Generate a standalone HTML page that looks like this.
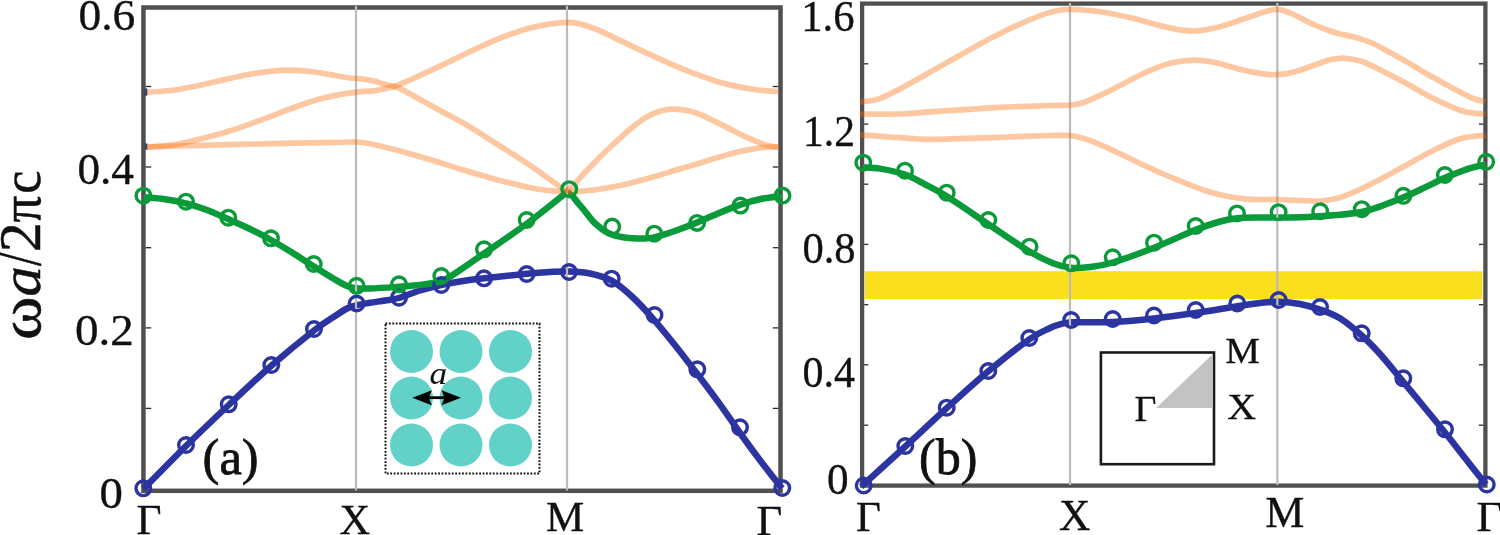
<!DOCTYPE html>
<html><head><meta charset="utf-8"><title>Band structure</title>
<style>html,body{margin:0;padding:0;background:#fff;}body{width:1500px;height:535px;overflow:hidden;font-family:"Liberation Serif",serif;}svg{display:block;}text{font-family:"Liberation Serif",serif;fill:#111;}</style></head><body>
<svg width="1500" height="535" viewBox="0 0 1500 535">
<rect x="0" y="0" width="1500" height="535" fill="#ffffff"/>
<rect x="864.9" y="271.2" width="617.5" height="27.8" fill="#fae01c"/>
<rect x="143.45" y="7.50" width="637.05" height="483.30" fill="none" stroke="#505050" stroke-width="4.50"/>
<rect x="862.10" y="3.60" width="623.30" height="482.00" fill="none" stroke="#505050" stroke-width="4.30"/>
<line x1="145.6" y1="86.50" x2="151.2" y2="86.50" stroke="#2a2a2a" stroke-width="1.30"/>
<line x1="145.6" y1="167.00" x2="151.2" y2="167.00" stroke="#2a2a2a" stroke-width="1.30"/>
<line x1="145.6" y1="247.70" x2="151.2" y2="247.70" stroke="#2a2a2a" stroke-width="1.30"/>
<line x1="145.6" y1="327.90" x2="151.2" y2="327.90" stroke="#2a2a2a" stroke-width="1.30"/>
<line x1="145.6" y1="408.40" x2="151.2" y2="408.40" stroke="#2a2a2a" stroke-width="1.30"/>
<line x1="772.8" y1="86.50" x2="778.4" y2="86.50" stroke="#2a2a2a" stroke-width="1.30"/>
<line x1="772.8" y1="167.00" x2="778.4" y2="167.00" stroke="#2a2a2a" stroke-width="1.30"/>
<line x1="772.8" y1="247.70" x2="778.4" y2="247.70" stroke="#2a2a2a" stroke-width="1.30"/>
<line x1="772.8" y1="327.90" x2="778.4" y2="327.90" stroke="#2a2a2a" stroke-width="1.30"/>
<line x1="772.8" y1="408.40" x2="778.4" y2="408.40" stroke="#2a2a2a" stroke-width="1.30"/>
<line x1="864.2" y1="63.80" x2="868.2" y2="63.80" stroke="#2a2a2a" stroke-width="1.30"/>
<line x1="864.2" y1="124.10" x2="868.2" y2="124.10" stroke="#2a2a2a" stroke-width="1.30"/>
<line x1="864.2" y1="184.20" x2="868.2" y2="184.20" stroke="#2a2a2a" stroke-width="1.30"/>
<line x1="864.2" y1="244.40" x2="868.2" y2="244.40" stroke="#2a2a2a" stroke-width="1.30"/>
<line x1="864.2" y1="304.70" x2="868.2" y2="304.70" stroke="#2a2a2a" stroke-width="1.30"/>
<line x1="864.2" y1="364.80" x2="868.2" y2="364.80" stroke="#2a2a2a" stroke-width="1.30"/>
<line x1="864.2" y1="425.20" x2="868.2" y2="425.20" stroke="#2a2a2a" stroke-width="1.30"/>
<line x1="1478.9" y1="63.80" x2="1483.4" y2="63.80" stroke="#2a2a2a" stroke-width="1.30"/>
<line x1="1478.9" y1="124.10" x2="1483.4" y2="124.10" stroke="#2a2a2a" stroke-width="1.30"/>
<line x1="1478.9" y1="184.20" x2="1483.4" y2="184.20" stroke="#2a2a2a" stroke-width="1.30"/>
<line x1="1478.9" y1="244.40" x2="1483.4" y2="244.40" stroke="#2a2a2a" stroke-width="1.30"/>
<line x1="1478.9" y1="304.70" x2="1483.4" y2="304.70" stroke="#2a2a2a" stroke-width="1.30"/>
<line x1="1478.9" y1="364.80" x2="1483.4" y2="364.80" stroke="#2a2a2a" stroke-width="1.30"/>
<line x1="1478.9" y1="425.20" x2="1483.4" y2="425.20" stroke="#2a2a2a" stroke-width="1.30"/>
<rect x="385.5" y="323.5" width="154" height="150" fill="#fff" stroke="#111" stroke-width="2" stroke-dasharray="1.8 1.62"/>
<circle cx="411.5" cy="351.5" r="21.5" fill="#62d2c8"/>
<circle cx="461.0" cy="351.5" r="21.5" fill="#62d2c8"/>
<circle cx="510.5" cy="351.5" r="21.5" fill="#62d2c8"/>
<circle cx="411.5" cy="398.0" r="21.5" fill="#62d2c8"/>
<circle cx="461.0" cy="398.0" r="21.5" fill="#62d2c8"/>
<circle cx="510.5" cy="398.0" r="21.5" fill="#62d2c8"/>
<circle cx="411.5" cy="445.0" r="21.5" fill="#62d2c8"/>
<circle cx="461.0" cy="445.0" r="21.5" fill="#62d2c8"/>
<circle cx="510.5" cy="445.0" r="21.5" fill="#62d2c8"/>
<line x1="426" y1="397.7" x2="447" y2="397.7" stroke="#000" stroke-width="2.8"/>
<path d="M412.3,397.7 L431.8,390.2 L428.8,397.7 L431.8,405.2 Z" fill="#000"/>
<path d="M461.0,397.7 L441.5,390.2 L444.5,397.7 L441.5,405.2 Z" fill="#000"/>
<rect x="1100.9" y="352.5" width="113.1" height="111.7" fill="#fff" stroke="#1a1a1a" stroke-width="2.6"/>
<path d="M1156,407.9 L1212.6,354.3 L1212.6,407.9 Z" fill="#c3c3c3"/>
<path d="M143.50,489.00 C150.58,481.83 171.80,460.00 186.00,446.00 C200.20,432.00 214.53,418.33 228.70,405.00 C242.87,391.67 256.78,378.42 271.00,366.00 C285.22,353.58 303.33,338.83 314.00,330.50 C324.67,322.17 329.50,319.67 335.00,316.00 C340.50,312.33 343.50,310.28 347.00,308.50 C350.50,306.72 352.17,306.25 356.00,305.30 C359.83,304.35 365.17,303.60 370.00,302.80 C374.83,302.00 380.17,301.30 385.00,300.50 C389.83,299.70 393.17,299.67 399.00,298.00 C404.83,296.33 413.00,292.67 420.00,290.50 C427.00,288.33 434.33,286.50 441.00,285.00 C447.67,283.50 452.83,282.62 460.00,281.50 C467.17,280.38 472.83,279.60 484.00,278.30 C495.17,277.00 516.00,274.75 527.00,273.70 C538.00,272.65 543.00,272.37 550.00,272.00 C557.00,271.63 562.33,271.25 569.00,271.50 C575.67,271.75 582.88,271.97 590.00,273.50 C597.12,275.03 604.53,276.70 611.70,280.70 C618.87,284.70 625.95,290.98 633.00,297.50 C640.05,304.02 647.00,311.85 654.00,319.80 C661.00,327.75 667.78,336.17 675.00,345.20 C682.22,354.23 689.80,364.15 697.30,374.00 C704.80,383.85 712.88,394.47 720.00,404.30 C727.12,414.13 733.33,423.68 740.00,433.00 C746.67,442.32 753.00,450.95 760.00,460.20 C767.00,469.45 778.33,483.78 782.00,488.50" fill="none" stroke="#2b34a0" stroke-width="6.50" stroke-linejoin="round" stroke-linecap="butt"/>
<path d="M143.50,197.20 C147.08,197.53 157.92,198.17 165.00,199.20 C172.08,200.23 179.00,201.60 186.00,203.40 C193.00,205.20 200.00,207.40 207.00,210.00 C214.00,212.60 220.83,215.83 228.00,219.00 C235.17,222.17 242.83,225.50 250.00,229.00 C257.17,232.50 264.00,236.08 271.00,240.00 C278.00,243.92 284.83,248.08 292.00,252.50 C299.17,256.92 306.83,262.00 314.00,266.50 C321.17,271.00 329.50,276.25 335.00,279.50 C340.50,282.75 343.50,284.55 347.00,286.00 C350.50,287.45 352.17,287.78 356.00,288.20 C359.83,288.62 362.83,288.75 370.00,288.50 C377.17,288.25 390.67,287.28 399.00,286.70 C407.33,286.12 414.00,285.65 420.00,285.00 C426.00,284.35 431.00,283.63 435.00,282.80 C439.00,281.97 440.67,281.55 444.00,280.00 C447.33,278.45 448.33,277.92 455.00,273.50 C461.67,269.08 472.00,261.83 484.00,253.50 C496.00,245.17 513.17,233.75 527.00,223.50 C540.83,213.25 560.33,197.25 567.00,192.00 M567.00,192.00 C567.90,192.67 570.57,194.17 572.40,196.00 C574.23,197.83 576.13,200.75 578.00,203.00 C579.87,205.25 580.80,206.13 583.60,209.50 C586.40,212.87 590.68,219.25 594.80,223.20 C598.92,227.15 603.82,230.90 608.30,233.20 C612.78,235.50 617.58,236.17 621.70,237.00 C625.82,237.83 629.12,237.97 633.00,238.20 C636.88,238.43 641.45,238.55 645.00,238.40 C648.55,238.25 649.20,238.58 654.30,237.30 C659.40,236.02 668.48,233.17 675.60,230.70 C682.72,228.23 689.53,225.55 697.00,222.50 C704.47,219.45 713.13,215.38 720.40,212.40 C727.67,209.42 733.87,206.83 740.60,204.60 C747.33,202.37 753.90,200.43 760.80,199.00 C767.70,197.57 778.47,196.50 782.00,196.00" fill="none" stroke="#0a9a3a" stroke-width="6.50" stroke-linejoin="round" stroke-linecap="butt"/>
<path d="M861.20,486.60 C868.55,479.92 891.05,459.57 905.30,446.50 C919.55,433.43 932.87,420.73 946.70,408.20 C960.53,395.67 974.53,382.78 988.30,371.30 C1002.07,359.82 1019.02,346.52 1029.30,339.30 C1039.58,332.08 1044.88,330.50 1050.00,328.00 C1055.12,325.50 1056.50,325.25 1060.00,324.30 C1063.50,323.35 1066.00,322.63 1071.00,322.30 C1076.00,321.97 1083.00,322.35 1090.00,322.30 C1097.00,322.25 1102.33,322.65 1113.00,322.00 C1123.67,321.35 1140.22,319.90 1154.00,318.40 C1167.78,316.90 1181.87,315.02 1195.70,313.00 C1209.53,310.98 1226.28,307.97 1237.00,306.30 C1247.72,304.63 1253.05,303.75 1260.00,303.00 C1266.95,302.25 1272.03,301.63 1278.70,301.80 C1285.37,301.97 1293.12,302.72 1300.00,304.00 C1306.88,305.28 1313.33,307.12 1320.00,309.50 C1326.67,311.88 1333.05,313.97 1340.00,318.30 C1346.95,322.63 1355.03,329.55 1361.70,335.50 C1368.37,341.45 1373.12,346.33 1380.00,354.00 C1386.88,361.67 1396.33,373.50 1403.00,381.50 C1409.67,389.50 1413.00,393.50 1420.00,402.00 C1427.00,410.50 1437.50,423.17 1445.00,432.50 C1452.50,441.83 1458.17,449.33 1465.00,458.00 C1471.83,466.67 1482.50,480.08 1486.00,484.50" fill="none" stroke="#2b34a0" stroke-width="6.50" stroke-linejoin="round" stroke-linecap="butt"/>
<path d="M863.00,167.30 C865.83,167.52 873.00,167.40 880.00,168.60 C887.00,169.80 897.50,171.88 905.00,174.50 C912.50,177.12 918.05,180.67 925.00,184.30 C931.95,187.93 936.20,189.68 946.70,196.30 C957.20,202.92 974.28,214.83 988.00,224.00 C1001.72,233.17 1018.17,244.77 1029.00,251.30 C1039.83,257.83 1046.00,260.45 1053.00,263.20 C1060.00,265.95 1064.83,267.17 1071.00,267.80 C1077.17,268.43 1083.05,267.88 1090.00,267.00 C1096.95,266.12 1102.03,265.72 1112.70,262.50 C1123.37,259.28 1140.17,253.15 1154.00,247.70 C1167.83,242.25 1184.70,234.17 1195.70,229.80 C1206.70,225.43 1213.12,223.42 1220.00,221.50 C1226.88,219.58 1230.33,218.97 1237.00,218.30 C1243.67,217.63 1253.05,217.63 1260.00,217.50 C1266.95,217.37 1272.03,217.55 1278.70,217.50 C1285.37,217.45 1293.12,217.42 1300.00,217.20 C1306.88,216.98 1313.33,216.60 1320.00,216.20 C1326.67,215.80 1333.05,215.50 1340.00,214.80 C1346.95,214.10 1355.03,213.38 1361.70,212.00 C1368.37,210.62 1373.12,208.90 1380.00,206.50 C1386.88,204.10 1395.50,200.78 1403.00,197.60 C1410.50,194.42 1418.00,190.70 1425.00,187.40 C1432.00,184.10 1438.05,180.82 1445.00,177.80 C1451.95,174.78 1459.87,171.55 1466.70,169.30 C1473.53,167.05 1482.78,165.13 1486.00,164.30" fill="none" stroke="#0a9a3a" stroke-width="6.50" stroke-linejoin="round" stroke-linecap="butt"/>
<line x1="356.0" y1="6.0" x2="356.0" y2="490.5" stroke="#bbbbbb" stroke-width="2.20"/>
<line x1="567.0" y1="6.0" x2="567.0" y2="490.5" stroke="#bbbbbb" stroke-width="2.20"/>
<line x1="1070.0" y1="3.0" x2="1070.0" y2="485.0" stroke="#bbbbbb" stroke-width="2.20"/>
<line x1="1277.3" y1="3.0" x2="1277.3" y2="485.0" stroke="#bbbbbb" stroke-width="2.20"/>
<g fill="none" stroke="#f96a00" stroke-opacity="0.37" stroke-width="5.70" stroke-linecap="butt" stroke-linejoin="round">
<path d="M147.20,92.20 C150.17,92.00 159.57,91.50 165.00,91.00 C170.43,90.50 173.58,90.23 179.80,89.20 C186.02,88.17 194.82,86.40 202.30,84.80 C209.78,83.20 217.23,81.28 224.70,79.60 C232.17,77.92 239.63,76.08 247.10,74.70 C254.57,73.32 262.40,72.05 269.50,71.30 C276.60,70.55 282.22,70.08 289.70,70.20 C297.18,70.32 306.55,71.07 314.40,72.00 C322.25,72.93 330.83,74.80 336.80,75.80 C342.77,76.80 346.08,77.48 350.20,78.00 C354.32,78.52 357.75,78.43 361.50,78.90 C365.25,79.37 368.78,79.90 372.70,80.80 C376.62,81.70 381.45,83.35 385.00,84.30 C388.55,85.25 391.17,85.62 394.00,86.50 C396.83,87.38 395.50,86.23 402.00,89.60 C408.50,92.97 422.22,100.80 433.00,106.70 C443.78,112.60 457.65,119.78 466.70,125.00 C475.75,130.22 481.75,134.50 487.30,138.00 C492.85,141.50 493.12,141.62 500.00,146.00 C506.88,150.38 521.10,159.30 528.60,164.30 C536.10,169.30 539.93,172.38 545.00,176.00 C550.07,179.62 555.33,183.50 559.00,186.00 C562.67,188.50 565.67,190.17 567.00,191.00"/>
<path d="M147.20,147.00 C150.17,146.77 159.57,146.15 165.00,145.60 C170.43,145.05 173.58,144.87 179.80,143.70 C186.02,142.53 194.82,140.47 202.30,138.60 C209.78,136.73 217.23,134.75 224.70,132.50 C232.17,130.25 239.63,127.72 247.10,125.10 C254.57,122.48 262.02,119.60 269.50,116.80 C276.98,114.00 284.52,111.03 292.00,108.30 C299.48,105.57 306.93,102.60 314.40,100.40 C321.87,98.20 329.70,96.48 336.80,95.10 C343.90,93.72 351.02,92.82 357.00,92.10 C362.98,91.38 368.03,91.38 372.70,90.80 C377.37,90.22 381.38,89.33 385.00,88.60 C388.62,87.87 390.73,87.62 394.40,86.40 C398.07,85.18 402.55,83.22 407.00,81.30 C411.45,79.38 415.32,77.57 421.10,74.90 C426.88,72.23 434.85,68.55 441.70,65.30 C448.55,62.05 455.35,58.68 462.20,55.40 C469.05,52.12 475.95,48.68 482.80,45.60 C489.65,42.52 496.45,39.55 503.30,36.90 C510.15,34.25 517.05,31.70 523.90,29.70 C530.75,27.70 538.58,26.03 544.40,24.90 C550.22,23.77 555.03,23.33 558.80,22.90 C562.57,22.47 563.53,22.17 567.00,22.30 C570.47,22.43 574.23,22.33 579.60,23.70 C584.97,25.07 592.65,27.80 599.20,30.50 C605.75,33.20 612.35,36.78 618.90,39.90 C625.45,43.02 631.97,46.12 638.50,49.20 C645.03,52.28 651.57,55.47 658.10,58.40 C664.63,61.33 671.15,64.08 677.70,66.80 C684.25,69.52 690.85,72.25 697.40,74.70 C703.95,77.15 710.47,79.55 717.00,81.50 C723.53,83.45 730.07,85.02 736.60,86.40 C743.13,87.78 750.97,89.05 756.20,89.80 C761.43,90.55 764.32,90.65 768.00,90.90 C771.68,91.15 776.58,91.23 778.30,91.30"/>
<path d="M147.20,147.00 C156.38,146.72 181.92,145.85 202.30,145.30 C222.68,144.75 247.08,144.18 269.50,143.70 C291.92,143.22 322.22,142.68 336.80,142.40 C351.38,142.12 351.02,141.70 357.00,142.00 C362.98,142.30 368.03,143.32 372.70,144.20 C377.37,145.08 380.45,146.17 385.00,147.30 C389.55,148.43 392.00,148.80 400.00,151.00 C408.00,153.20 421.88,157.17 433.00,160.50 C444.12,163.83 455.53,167.67 466.70,171.00 C477.87,174.33 488.95,177.62 500.00,180.50 C511.05,183.38 524.67,186.60 533.00,188.30 C541.33,190.00 544.33,190.12 550.00,190.70 C555.67,191.28 562.07,191.70 567.00,191.80 C571.93,191.90 575.77,191.55 579.60,191.30 C583.43,191.05 586.73,190.65 590.00,190.30 C593.27,189.95 594.38,189.97 599.20,189.20 C604.02,188.43 612.35,187.07 618.90,185.70 C625.45,184.33 631.97,182.70 638.50,181.00 C645.03,179.30 651.57,177.40 658.10,175.50 C664.63,173.60 671.15,171.57 677.70,169.60 C684.25,167.63 690.85,165.67 697.40,163.70 C703.95,161.73 710.47,159.70 717.00,157.80 C723.53,155.90 730.07,153.87 736.60,152.30 C743.13,150.73 750.97,149.25 756.20,148.40 C761.43,147.55 764.32,147.43 768.00,147.20 C771.68,146.97 776.58,147.03 778.30,147.00"/>
<path d="M567.00,191.00 C567.92,190.17 570.40,188.10 572.50,186.00 C574.60,183.90 576.85,181.35 579.60,178.40 C582.35,175.45 585.73,171.73 589.00,168.30 C592.27,164.87 595.87,161.13 599.20,157.80 C602.53,154.47 605.72,151.40 609.00,148.30 C612.28,145.20 615.65,142.17 618.90,139.20 C622.15,136.23 625.23,133.28 628.50,130.50 C631.77,127.72 635.25,124.87 638.50,122.50 C641.75,120.13 644.73,118.10 648.00,116.30 C651.27,114.50 655.10,112.78 658.10,111.70 C661.10,110.62 663.38,110.23 666.00,109.80 C668.62,109.37 671.22,109.13 673.80,109.10 C676.38,109.07 678.88,109.27 681.50,109.60 C684.12,109.93 686.75,110.40 689.50,111.10 C692.25,111.80 695.05,112.72 698.00,113.80 C700.95,114.88 702.40,115.33 707.20,117.60 C712.00,119.87 720.27,124.13 726.80,127.40 C733.33,130.67 740.52,134.48 746.40,137.20 C752.28,139.92 758.17,142.23 762.10,143.70 C766.03,145.17 767.30,145.45 770.00,146.00 C772.70,146.55 776.92,146.83 778.30,147.00"/>
<path d="M860.00,101.90 C861.67,101.72 866.67,101.37 870.00,100.80 C873.33,100.23 874.90,100.53 880.00,98.50 C885.10,96.47 893.75,92.13 900.60,88.60 C907.45,85.07 914.25,81.13 921.10,77.30 C927.95,73.47 934.85,69.48 941.70,65.60 C948.55,61.72 955.35,57.87 962.20,54.00 C969.05,50.13 975.95,46.07 982.80,42.40 C989.65,38.73 996.45,35.35 1003.30,32.00 C1010.15,28.65 1017.05,25.28 1023.90,22.30 C1030.75,19.32 1038.58,16.08 1044.40,14.10 C1050.22,12.12 1054.53,11.20 1058.80,10.40 C1063.07,9.60 1063.13,9.08 1070.00,9.30 C1076.87,9.52 1089.50,10.20 1100.00,11.70 C1110.50,13.20 1121.88,15.70 1133.00,18.30 C1144.12,20.90 1156.70,25.18 1166.70,27.30 C1176.70,29.42 1184.12,31.10 1193.00,31.00 C1201.88,30.90 1210.50,29.08 1220.00,26.70 C1229.50,24.32 1242.50,19.18 1250.00,16.70 C1257.50,14.22 1261.17,12.97 1265.00,11.80 C1268.83,10.63 1270.75,10.08 1273.00,9.70 C1275.25,9.32 1276.50,9.28 1278.50,9.50 C1280.50,9.72 1282.68,10.25 1285.00,11.00 C1287.32,11.75 1289.90,12.87 1292.40,14.00 C1294.90,15.13 1296.25,15.97 1300.00,17.80 C1303.75,19.63 1310.45,23.00 1314.90,25.00 C1319.35,27.00 1322.97,28.43 1326.70,29.80 C1330.43,31.17 1333.42,32.17 1337.30,33.20 C1341.18,34.23 1346.27,35.10 1350.00,36.00 C1353.73,36.90 1355.87,37.35 1359.70,38.60 C1363.53,39.85 1369.25,41.90 1373.00,43.50 C1376.75,45.10 1376.93,45.35 1382.20,48.20 C1387.47,51.05 1397.13,56.30 1404.60,60.60 C1412.07,64.90 1419.52,69.70 1427.00,74.00 C1434.48,78.30 1443.17,82.98 1449.50,86.40 C1455.83,89.82 1460.58,92.32 1465.00,94.50 C1469.42,96.68 1472.55,98.33 1476.00,99.50 C1479.45,100.67 1484.08,101.17 1485.70,101.50"/>
<path d="M860.00,114.00 C866.67,114.00 887.83,114.38 900.00,114.00 C912.17,113.62 916.33,112.82 933.00,111.70 C949.67,110.58 980.50,108.33 1000.00,107.30 C1019.50,106.27 1038.33,105.88 1050.00,105.50 C1061.67,105.12 1064.50,105.47 1070.00,105.00 C1075.50,104.53 1077.18,104.68 1083.00,102.70 C1088.82,100.72 1097.52,96.60 1104.90,93.10 C1112.28,89.60 1119.82,85.43 1127.30,81.70 C1134.78,77.97 1142.32,73.85 1149.80,70.70 C1157.28,67.55 1164.73,64.55 1172.20,62.80 C1179.67,61.05 1187.13,60.17 1194.60,60.20 C1202.07,60.23 1209.52,61.50 1217.00,63.00 C1224.48,64.50 1232.00,67.43 1239.50,69.20 C1247.00,70.97 1255.70,72.68 1262.00,73.60 C1268.30,74.52 1272.13,74.92 1277.30,74.70 C1282.47,74.48 1286.43,74.03 1293.00,72.30 C1299.57,70.57 1310.53,66.38 1316.70,64.30 C1322.87,62.22 1325.62,60.82 1330.00,59.80 C1334.38,58.78 1338.83,58.20 1343.00,58.20 C1347.17,58.20 1351.05,58.95 1355.00,59.80 C1358.95,60.65 1359.20,59.93 1366.70,63.30 C1374.20,66.67 1388.95,74.17 1400.00,80.00 C1411.05,85.83 1423.00,93.25 1433.00,98.30 C1443.00,103.35 1453.00,107.80 1460.00,110.30 C1467.00,112.80 1470.72,112.68 1475.00,113.30 C1479.28,113.92 1483.92,113.88 1485.70,114.00"/>
<path d="M860.00,134.80 C866.67,135.28 887.83,136.95 900.00,137.70 C912.17,138.45 916.33,139.37 933.00,139.30 C949.67,139.23 980.50,137.93 1000.00,137.30 C1019.50,136.67 1038.33,135.80 1050.00,135.50 C1061.67,135.20 1064.67,135.08 1070.00,135.50 C1075.33,135.92 1078.07,136.93 1082.00,138.00 C1085.93,139.07 1088.85,140.00 1093.60,141.90 C1098.35,143.80 1104.88,146.83 1110.50,149.40 C1116.12,151.97 1121.70,154.63 1127.30,157.30 C1132.90,159.97 1138.50,162.78 1144.10,165.40 C1149.70,168.02 1155.30,170.57 1160.90,173.00 C1166.50,175.43 1172.08,177.70 1177.70,180.00 C1183.32,182.30 1188.98,184.72 1194.60,186.80 C1200.22,188.88 1205.80,190.88 1211.40,192.50 C1217.00,194.12 1222.60,195.45 1228.20,196.50 C1233.80,197.55 1239.70,198.30 1245.00,198.80 C1250.30,199.30 1254.38,199.38 1260.00,199.50 C1265.62,199.62 1272.03,199.33 1278.70,199.50 C1285.37,199.67 1293.12,200.25 1300.00,200.50 C1306.88,200.75 1313.83,201.37 1320.00,201.00 C1326.17,200.63 1330.45,200.17 1337.00,198.30 C1343.55,196.43 1351.53,193.25 1359.30,189.80 C1367.07,186.35 1375.48,181.87 1383.60,177.60 C1391.72,173.33 1399.90,168.63 1408.00,164.20 C1416.10,159.77 1424.12,155.03 1432.20,151.00 C1440.28,146.97 1450.20,142.37 1456.50,140.00 C1462.80,137.63 1465.13,137.57 1470.00,136.80 C1474.87,136.03 1483.08,135.63 1485.70,135.40"/>
</g>
<rect x="144.5" y="88.4" width="2.8" height="7.3" fill="#3c4266"/><rect x="144.5" y="143.4" width="2.8" height="6.3" fill="#3c4266"/>
<g fill="none" stroke="#2b34a0" stroke-width="3.40">
<circle cx="143.3" cy="488.3" r="7.30"/>
<circle cx="186.0" cy="445.0" r="7.30"/>
<circle cx="228.7" cy="404.3" r="7.30"/>
<circle cx="271.3" cy="365.0" r="7.30"/>
<circle cx="314.0" cy="329.0" r="7.30"/>
<circle cx="356.6" cy="303.5" r="7.30"/>
<circle cx="399.0" cy="297.7" r="7.30"/>
<circle cx="441.3" cy="285.0" r="7.30"/>
<circle cx="484.0" cy="278.3" r="7.30"/>
<circle cx="526.7" cy="274.0" r="7.30"/>
<circle cx="569.0" cy="272.0" r="7.30"/>
<circle cx="611.7" cy="278.7" r="7.30"/>
<circle cx="654.5" cy="315.0" r="7.30"/>
<circle cx="697.3" cy="369.3" r="7.30"/>
<circle cx="740.0" cy="427.3" r="7.30"/>
<circle cx="782.3" cy="488.0" r="7.30"/>
</g>
<g fill="none" stroke="#0a9a3a" stroke-width="3.40">
<circle cx="143.4" cy="195.7" r="7.30"/>
<circle cx="186.0" cy="201.7" r="7.30"/>
<circle cx="228.3" cy="217.7" r="7.30"/>
<circle cx="271.0" cy="238.3" r="7.30"/>
<circle cx="313.7" cy="264.0" r="7.30"/>
<circle cx="356.6" cy="285.8" r="7.30"/>
<circle cx="399.0" cy="284.3" r="7.30"/>
<circle cx="441.3" cy="276.0" r="7.30"/>
<circle cx="484.0" cy="249.3" r="7.30"/>
<circle cx="526.7" cy="220.0" r="7.30"/>
<circle cx="569.2" cy="189.2" r="7.30"/>
<circle cx="612.2" cy="226.6" r="7.30"/>
<circle cx="654.3" cy="233.7" r="7.30"/>
<circle cx="697.1" cy="222.9" r="7.30"/>
<circle cx="740.4" cy="205.6" r="7.30"/>
<circle cx="782.5" cy="195.6" r="7.30"/>
</g>
<g fill="none" stroke="#2b34a0" stroke-width="3.40">
<circle cx="863.7" cy="485.5" r="7.30"/>
<circle cx="905.3" cy="446.0" r="7.30"/>
<circle cx="946.7" cy="407.7" r="7.30"/>
<circle cx="988.3" cy="371.0" r="7.30"/>
<circle cx="1029.3" cy="338.0" r="7.30"/>
<circle cx="1071.2" cy="320.0" r="7.30"/>
<circle cx="1112.7" cy="319.0" r="7.30"/>
<circle cx="1154.0" cy="315.5" r="7.30"/>
<circle cx="1195.7" cy="310.0" r="7.30"/>
<circle cx="1237.3" cy="303.5" r="7.30"/>
<circle cx="1278.7" cy="300.0" r="7.30"/>
<circle cx="1320.0" cy="307.0" r="7.30"/>
<circle cx="1361.7" cy="333.3" r="7.30"/>
<circle cx="1403.3" cy="378.3" r="7.30"/>
<circle cx="1445.0" cy="429.3" r="7.30"/>
<circle cx="1486.8" cy="484.5" r="7.30"/>
</g>
<g fill="none" stroke="#0a9a3a" stroke-width="3.40">
<circle cx="863.3" cy="162.7" r="7.30"/>
<circle cx="905.0" cy="170.7" r="7.30"/>
<circle cx="946.7" cy="192.7" r="7.30"/>
<circle cx="988.3" cy="220.0" r="7.30"/>
<circle cx="1029.5" cy="246.7" r="7.30"/>
<circle cx="1071.3" cy="263.3" r="7.30"/>
<circle cx="1112.7" cy="257.3" r="7.30"/>
<circle cx="1154.0" cy="242.7" r="7.30"/>
<circle cx="1195.7" cy="226.0" r="7.30"/>
<circle cx="1237.0" cy="213.4" r="7.30"/>
<circle cx="1278.6" cy="212.2" r="7.30"/>
<circle cx="1320.2" cy="211.3" r="7.30"/>
<circle cx="1361.8" cy="209.2" r="7.30"/>
<circle cx="1403.4" cy="195.8" r="7.30"/>
<circle cx="1444.9" cy="175.0" r="7.30"/>
<circle cx="1486.2" cy="161.8" r="7.30"/>
</g>
<g opacity="0.999" stroke="#111" stroke-width="0.35" stroke-linejoin="round">
<text transform="translate(78.5,29.6) scale(1.011,1)" font-size="45.0" text-anchor="start" >0.6</text>
<text transform="translate(77.4,184.2) scale(1.006,1)" font-size="45.0" text-anchor="start" >0.4</text>
<text transform="translate(75.0,345.4) scale(1.047,1)" font-size="45.0" text-anchor="start" >0.2</text>
<text transform="translate(99.5,508.0) scale(1.041,1)" font-size="45.0" text-anchor="start" >0</text>
<text transform="translate(801.2,31.2) scale(0.948,1)" font-size="45.0" text-anchor="start" >1.6</text>
<text transform="translate(803.1,146.0) scale(0.923,1)" font-size="45.0" text-anchor="start" >1.2</text>
<text transform="translate(802.4,262.8) scale(0.946,1)" font-size="45.0" text-anchor="start" >0.8</text>
<text transform="translate(802.4,386.7) scale(0.933,1)" font-size="45.0" text-anchor="start" >0.4</text>
<text transform="translate(827.0,493.8) scale(0.960,1)" font-size="45.0" text-anchor="start" >0</text>
<text transform="translate(136.4,534.0) scale(1.030,1)" font-size="42.0" text-anchor="start" >Γ</text>
<text x="339.6" y="534.0" font-size="42.5" text-anchor="start" >X</text>
<text x="546.0" y="530.7" font-size="43.0" text-anchor="start" >M</text>
<text transform="translate(756.6,534.5) scale(1.060,1)" font-size="42.0" text-anchor="start" >Γ</text>
<text x="855.9" y="530.5" font-size="43.0" text-anchor="start" >Γ</text>
<text x="1059.0" y="529.7" font-size="43.5" text-anchor="start" >X</text>
<text x="1265.2" y="527.1" font-size="44.0" text-anchor="start" >M</text>
<text transform="translate(1476.4,530.6) scale(1.050,1)" font-size="43.0" text-anchor="start" >Γ</text>
<text x="202.6" y="473.8" font-size="50.5" text-anchor="start" stroke-width="0.8">(a)</text>
<text x="919.0" y="473.6" font-size="50.0" text-anchor="start" stroke-width="0.8">(b)</text>
<text transform="translate(429.5,384.4) scale(1.100,1)" font-size="32.0" text-anchor="start" font-style="italic" stroke="none">a</text>
<text transform="translate(1134.4,420.8) scale(1.050,1)" font-size="36.0" text-anchor="start" stroke-width="0.3">Γ</text>
<text transform="translate(1225.2,363.3) scale(1.070,1)" font-size="36.5" text-anchor="start" stroke-width="0.3">M</text>
<text transform="translate(1227.2,419.2) scale(1.110,1)" font-size="36.0" text-anchor="start" stroke-width="0.3">X</text>
<text transform="translate(40.2,340.07) rotate(-90) scale(1.158,1.040)" font-size="57.0" stroke-width="0.5">ω</text>
<text transform="translate(40.2,296.62) rotate(-90) scale(1.064,1.000)" font-size="57.0" stroke-width="0.5" font-style="italic">a</text>
<text transform="translate(40.2,266.10) rotate(-90) scale(0.846,1.060)" font-size="57.0" stroke-width="0.5">/</text>
<text transform="translate(40.2,252.36) rotate(-90) scale(1.059,1.020)" font-size="57.0" stroke-width="0.5">2</text>
<text transform="translate(40.2,222.44) rotate(-90) scale(0.932,1.000)" font-size="57.0" stroke-width="0.5">π</text>
<text transform="translate(40.2,193.80) rotate(-90) scale(0.922,0.975)" font-size="57.0" stroke-width="0.5">c</text>
</g>
</svg></body></html>
